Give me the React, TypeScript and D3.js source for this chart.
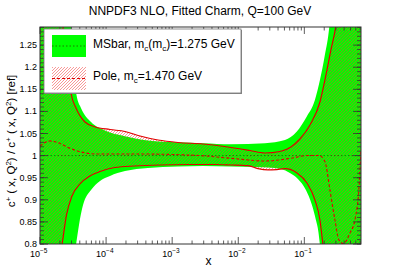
import React from 'react';
import * as d3 from 'd3';

const W = 401;
const H = 272;
const frame = { left: 40, right: 361, top: 27, bottom: 244 };

// all x values are log10(x)
const msbarUpperLogX = [-5, -4.65, -4.531, -4.501, -4.47, -4.448, -4.38, -4.228, -4.017, -3.714, -3.366, -2.912, -2.534, -2.11, -1.596, -1.293, -1.117, -0.965, -0.84, -0.764, -0.689, -0.62, -0.55, -0.1];
const msbarUpper = [2.2, 1.5, 1.291, 1.216, 1.16, 1.137, 1.108, 1.076, 1.057, 1.044, 1.034, 1.03, 1.028, 1.0256, 1.028, 1.0353, 1.054, 1.088, 1.126, 1.171, 1.228, 1.2955, 1.45, 2.2];
const msbarLowerLogX = [-5, -4.6, -4.455, -4.41, -4.349, -4.228, -4.092, -3.941, -3.714, -3.366, -2.912, -2.534, -2.11, -1.747, -1.551, -1.354, -1.218, -1.097, -0.976, -0.885, -0.825, -0.787, -0.764, -0.65, -0.1];
const msbarLower = [0.3, 0.63, 0.7977, 0.843, 0.888, 0.922, 0.9426, 0.954, 0.965, 0.972, 0.9754, 0.9765, 0.9754, 0.9742, 0.9731, 0.9697, 0.9607, 0.9471, 0.9222, 0.8882, 0.8543, 0.8272, 0.7977, 0.6, 0.3];

const poleUpperLogX = [-5, -4.75, -4.652, -4.592, -4.531, -4.455, -4.324, -4.172, -3.941, -3.714, -3.487, -3.215, -2.912, -2.534, -2.11, -1.823, -1.596, -1.369, -1.203, -1.067, -0.915, -0.764, -0.673, -0.598, -0.522, -0.4, -0.1];
const poleUpper = [2.0, 1.5, 1.291, 1.216, 1.1417, 1.1077, 1.0767, 1.0654, 1.0591, 1.0546, 1.0444, 1.0353, 1.0297, 1.0263, 1.0184, 1.0116, 1.0059, 1.0093, 1.0195, 1.0376, 1.0693, 1.1213, 1.1824, 1.239, 1.2955, 1.5, 2.0];
const poleLowerLogX = [-5, -4.8, -4.667, -4.599, -4.516, -4.395, -4.244, -4.092, -3.865, -3.563, -3.185, -2.731, -2.352, -2.11, -1.853, -1.702, -1.551, -1.415, -1.293, -1.112, -0.961, -0.84, -0.764, -0.719, -0.6, -0.1];
const poleLower = [0.46, 0.665, 0.7977, 0.8656, 0.9086, 0.9358, 0.9539, 0.964, 0.9731, 0.9765, 0.9788, 0.9799, 0.9799, 0.9788, 0.9772, 0.9705, 0.9675, 0.9685, 0.9705, 0.9607, 0.938, 0.8996, 0.8543, 0.7977, 0.6, 0.3];
const poleCentralLogX = [-5, -4.849, -4.728, -4.546, -4.395, -4.138, -3.487, -2.61, -2.11, -1.596, -1.203, -0.946, -0.779, -0.688, -0.613, -0.537, -0.477, -0.408, -0.31, -0.235, -0.169, -0.144];
const poleCentral = [1.0217, 1.0331, 1.0292, 1.0165, 1.0088, 1.0036, 1.0036, 1.0003, 0.9939, 0.9878, 0.9939, 1.0003, 1.0003, 0.9862, 0.9222, 0.8543, 0.809, 0.8011, 0.8249, 0.8543, 0.938, 1.0127];

const xDecades = [-5, -4, -3, -2, -1];
const yMajorTicks = [0.8, 0.85, 0.9, 0.95, 1, 1.05, 1.1, 1.15, 1.2, 1.25];

const FONT = 'Liberation Sans, Arial, sans-serif';

const x = d3.scaleLog().domain([1e-5, 0.72]).range([frame.left, frame.right]);
const y = d3.scaleLinear().domain([0.8, 1.291]).range([frame.bottom, frame.top]);

const toPts = (lx: number[], v: number[]) => lx.map((l, i) => [x(Math.pow(10, l)), y(v[i])] as [number, number]);
const line = d3.line<[number, number]>().curve(d3.curveMonotoneX);

const bandPath = (ulx: number[], u: number[], llx: number[], l: number[]) => {
  const up = line(toPts(ulx, u)) as string;
  const lo = line(toPts(llx, l).reverse()) as string;
  return up + 'L' + lo.slice(1) + 'Z';
};

const GREEN = '#00ff00';

const App = () => {
  const minorX: number[] = [];
  xDecades.forEach((d) => {
    d3.range(2, 10).forEach((m) => {
      const v = m * Math.pow(10, d);
      if (v < 0.72) minorX.push(v);
    });
  });
  const minorY = d3.range(80, 130).map((v) => v / 100);

  const msbarBand = bandPath(msbarUpperLogX, msbarUpper, msbarLowerLogX, msbarLower);
  const poleBand = bandPath(poleUpperLogX, poleUpper, poleLowerLogX, poleLower);

  return (
    <svg width={W} height={H} style={{ position: 'absolute', left: 0, top: 0 }} fontFamily={FONT}>
      <defs>
        <clipPath id="plot">
          <rect x={frame.left} y={frame.top} width={frame.right - frame.left} height={frame.bottom - frame.top} />
        </clipPath>
        <pattern id="hatch" patternUnits="userSpaceOnUse" width={3} height={3}>
          <path d="M-1,1 l2,-2 M0,3 l3,-3 M2,4 l2,-2" stroke="#f03030" strokeWidth={0.5} />
        </pattern>
      </defs>
      <rect width={W} height={H} fill="#fff" />

      <text x={200} y={15} textAnchor="middle" fontSize={12} fill="#000">NNPDF3 NLO, Fitted Charm, Q=100 GeV</text>

      <g clipPath="url(#plot)">
        <path d={msbarBand} fill={GREEN} />
        <path d={poleBand} fill="url(#hatch)" />
        <path d={line(toPts(poleUpperLogX, poleUpper)) as string} fill="none" stroke="#e00000" strokeWidth={1.2} />
        <path d={line(toPts(poleLowerLogX, poleLower)) as string} fill="none" stroke="#e00000" strokeWidth={1.2} />
        <line x1={frame.left} x2={frame.right} y1={y(1)} y2={y(1)} stroke="#1f7a00" strokeWidth={1} strokeDasharray="1.5,2" />
        <path d={line(toPts(poleCentralLogX, poleCentral)) as string} fill="none" stroke="#e00000" strokeWidth={1.1} strokeDasharray="3,2" />
      </g>

      {/* frame and ticks */}
      <rect x={frame.left} y={frame.top} width={frame.right - frame.left} height={frame.bottom - frame.top} fill="none" stroke="#333" strokeWidth={1} />
      <g stroke="#333" strokeWidth={0.8}>
        {xDecades.map((d) => {
          const px = x(Math.pow(10, d));
          return (
            <g key={'mx' + d}>
              <line x1={px} x2={px} y1={frame.bottom} y2={frame.bottom - 7} />
              <line x1={px} x2={px} y1={frame.top} y2={frame.top + 7} />
            </g>
          );
        })}
        {minorX.map((v, i) => (
          <g key={'nx' + i}>
            <line x1={x(v)} x2={x(v)} y1={frame.bottom} y2={frame.bottom - 3.5} />
            <line x1={x(v)} x2={x(v)} y1={frame.top} y2={frame.top + 3.5} />
          </g>
        ))}
        {yMajorTicks.map((v) => (
          <g key={'my' + v}>
            <line x1={frame.left} x2={frame.left + 8} y1={y(v)} y2={y(v)} />
            <line x1={frame.right} x2={frame.right - 8} y1={y(v)} y2={y(v)} />
          </g>
        ))}
        {minorY.map((v, i) => (
          <g key={'ny' + i}>
            <line x1={frame.left} x2={frame.left + 4} y1={y(v)} y2={y(v)} />
            <line x1={frame.right} x2={frame.right - 4} y1={y(v)} y2={y(v)} />
          </g>
        ))}
      </g>

      {/* tick labels */}
      {yMajorTicks.map((v) => (
        <text key={'ly' + v} x={37} y={y(v) + 3} textAnchor="end" fontSize={9} fill="#000">
          {String(Number(v.toFixed(2)))}
        </text>
      ))}
      {xDecades.map((d) => (
        <text key={'lx' + d} x={x(Math.pow(10, d)) - 10} y={257} fontSize={9} fill="#000">
          10<tspan fontSize={6.5} dy={-4}>{'\u2212' + -d}</tspan>
        </text>
      ))}

      <text x={208.5} y={265} textAnchor="middle" fontSize={12} fill="#000">x</text>
      <text transform="translate(15,141) rotate(-90)" textAnchor="middle" fontSize={11.5} fill="#000">
        c<tspan fontSize={8} dy={-4}>+</tspan>
        <tspan dy={4}> ( x, Q</tspan>
        <tspan fontSize={8} dy={-4}>2</tspan>
        <tspan dy={4}>) / c</tspan>
        <tspan fontSize={8} dy={-4}>+</tspan>
        <tspan dy={4}> ( x, Q</tspan>
        <tspan fontSize={8} dy={-4}>2</tspan>
        <tspan dy={4}>) [ref]</tspan>
      </text>

      {/* legend */}
      <rect x={45} y={30} width={197} height={64} fill="#888" />
      <rect x={44} y={29} width={197} height={64} fill="#fff" stroke="#777" strokeWidth={0.8} />
      <rect x={52} y={35} width={34} height={22} fill={GREEN} />
      <line x1={52} x2={86} y1={46} y2={46} stroke="#1f7a00" strokeWidth={1} strokeDasharray="1.5,2" />
      <rect x={52} y={67} width={34} height={23} fill="url(#hatch)" />
      <line x1={52} x2={86} y1={78.5} y2={78.5} stroke="#e00000" strokeWidth={1.1} strokeDasharray="3,2" />
      <text x={93} y={48} fontSize={12} fill="#000">
        MSbar, m<tspan fontSize={8} dy={3}>c</tspan>
        <tspan dy={-3}>(m</tspan>
        <tspan fontSize={8} dy={3}>c</tspan>
        <tspan dy={-3}>)=1.275 GeV</tspan>
      </text>
      <text x={93} y={80} fontSize={12} fill="#000">
        Pole, m<tspan fontSize={8} dy={3}>c</tspan>
        <tspan dy={-3}>=1.470 GeV</tspan>
      </text>
    </svg>
  );
};

export default App;
